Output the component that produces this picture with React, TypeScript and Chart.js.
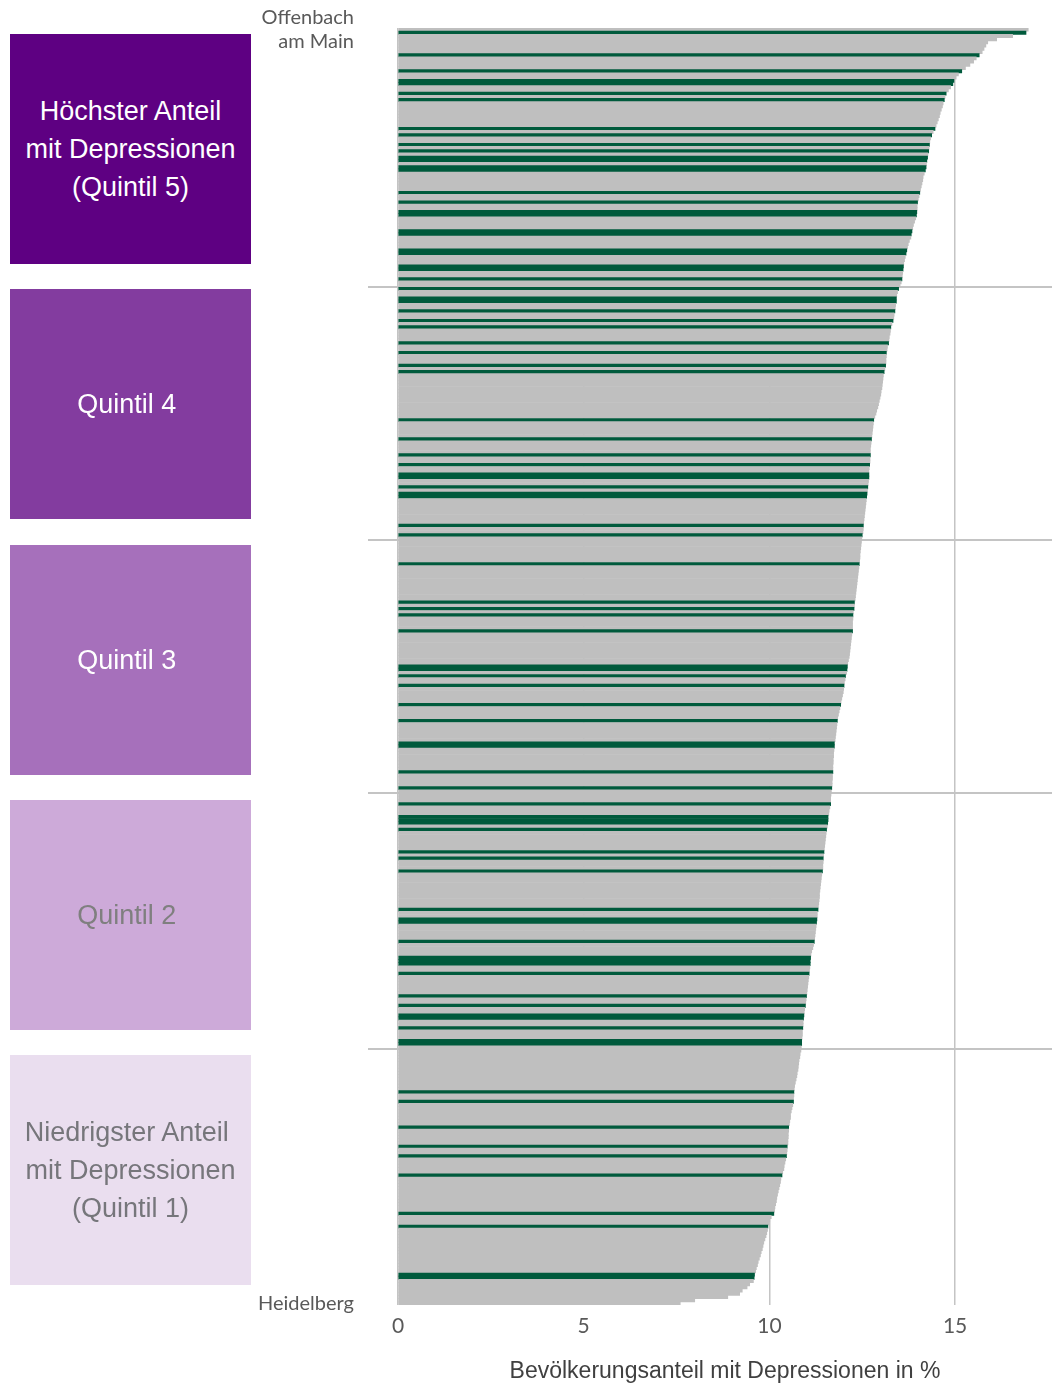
import { useEffect, useRef } from 'react';
import { Chart, registerables } from 'chart.js';

Chart.register(...registerables);

// Share of population with depression (%), districts sorted from highest to lowest
const districtValues: number[] = [
  16.97, 16.91, 16.55, 16.12, 15.88, 15.83, 15.78, 15.73, 15.65, 15.57,
  15.50, 15.40, 15.28, 15.18, 15.09, 15.03, 14.97, 14.94, 14.88, 14.82,
  14.76, 14.73, 14.71, 14.68, 14.66, 14.63, 14.60, 14.58, 14.55, 14.52,
  14.49, 14.46, 14.41, 14.37, 14.34, 14.32, 14.31, 14.30, 14.29, 14.27,
  14.26, 14.24, 14.23, 14.22, 14.20, 14.17, 14.14, 14.13, 14.11, 14.09,
  14.07, 14.05, 14.03, 14.01, 13.99, 13.98, 13.98, 13.97, 13.96, 13.94,
  13.91, 13.88, 13.86, 13.84, 13.82, 13.81, 13.77, 13.74, 13.72, 13.70,
  13.68, 13.66, 13.64, 13.62, 13.61, 13.60, 13.59, 13.58, 13.57, 13.55,
  13.52, 13.48, 13.45, 13.43, 13.42, 13.42, 13.40, 13.39, 13.38, 13.36,
  13.35, 13.33, 13.30, 13.27, 13.26, 13.25, 13.23, 13.22, 13.21, 13.18,
  13.17, 13.15, 13.15, 13.14, 13.14, 13.13, 13.11, 13.09, 13.07, 13.06,
  13.05, 13.04, 13.03, 13.01, 13.00, 12.98, 12.96, 12.94, 12.92, 12.89,
  12.87, 12.84, 12.81, 12.80, 12.79, 12.78, 12.77, 12.76, 12.75, 12.74,
  12.73, 12.72, 12.72, 12.72, 12.71, 12.71, 12.70, 12.69, 12.68, 12.68,
  12.68, 12.67, 12.66, 12.65, 12.64, 12.63, 12.62, 12.61, 12.60, 12.59,
  12.58, 12.57, 12.56, 12.55, 12.54, 12.53, 12.53, 12.52, 12.50, 12.49,
  12.48, 12.47, 12.46, 12.45, 12.44, 12.44, 12.43, 12.42, 12.41, 12.40,
  12.39, 12.38, 12.37, 12.36, 12.35, 12.34, 12.33, 12.32, 12.31, 12.29,
  12.29, 12.28, 12.26, 12.25, 12.25, 12.24, 12.24, 12.24, 12.24, 12.22,
  12.21, 12.20, 12.19, 12.18, 12.17, 12.16, 12.15, 12.13, 12.11, 12.10,
  12.09, 12.08, 12.05, 12.04, 12.02, 12.01, 12.00, 11.99, 11.97, 11.95,
  11.93, 11.92, 11.90, 11.88, 11.86, 11.84, 11.83, 11.82, 11.81, 11.80,
  11.79, 11.78, 11.77, 11.75, 11.75, 11.74, 11.73, 11.73, 11.72, 11.72,
  11.71, 11.71, 11.71, 11.70, 11.70, 11.69, 11.69, 11.68, 11.67, 11.66,
  11.65, 11.65, 11.65, 11.63, 11.61, 11.60, 11.58, 11.58, 11.57, 11.56,
  11.54, 11.53, 11.52, 11.51, 11.50, 11.49, 11.48, 11.47, 11.46, 11.45,
  11.45, 11.44, 11.44, 11.43, 11.41, 11.40, 11.39, 11.38, 11.37, 11.36,
  11.35, 11.35, 11.34, 11.33, 11.32, 11.31, 11.29, 11.29, 11.28, 11.27,
  11.26, 11.25, 11.24, 11.23, 11.22, 11.21, 11.19, 11.17, 11.14, 11.12,
  11.11, 11.10, 11.10, 11.09, 11.08, 11.07, 11.06, 11.05, 11.04, 11.03,
  11.02, 11.01, 11.00, 10.99, 10.98, 10.97, 10.95, 10.94, 10.93, 10.92,
  10.91, 10.91, 10.90, 10.89, 10.89, 10.88, 10.87, 10.87, 10.86, 10.85,
  10.83, 10.82, 10.80, 10.79, 10.78, 10.77, 10.75, 10.74, 10.72, 10.70,
  10.68, 10.67, 10.66, 10.66, 10.65, 10.65, 10.63, 10.61, 10.59, 10.57,
  10.57, 10.55, 10.54, 10.52, 10.52, 10.51, 10.51, 10.50, 10.50, 10.48,
  10.48, 10.47, 10.46, 10.44, 10.42, 10.40, 10.39, 10.36, 10.34, 10.31,
  10.30, 10.28, 10.26, 10.24, 10.22, 10.20, 10.19, 10.17, 10.15, 10.14,
  10.12, 10.05, 10.01, 9.99, 9.96, 9.95, 9.93, 9.91, 9.88, 9.85,
  9.83, 9.81, 9.78, 9.76, 9.73, 9.70, 9.68, 9.65, 9.63, 9.60,
  9.59, 9.57, 9.47, 9.40, 9.27, 9.20, 8.88, 7.99, 7.60,
];

// Positions (in the sorted list) of the highlighted (green) districts
const highlightedIdx: number[] = [
  1, 8, 13, 16, 17, 20, 22, 31, 33, 36, 38, 40, 41, 43, 44, 51, 54, 57, 58, 63, 64,
  69, 70, 74, 75, 78, 81, 84, 85, 88, 91, 93, 98, 101, 105, 107, 122, 128,
  133, 136, 139, 140, 143, 145, 146, 155, 158, 167, 179, 181, 183, 188, 199, 200,
  202, 205, 211, 216, 223, 224, 232, 237, 242, 246, 247, 248, 250, 257, 259, 263,
  275, 278, 279, 285, 290, 291, 292, 295, 302, 305, 308, 309, 312, 316, 317,
  332, 335, 343, 349, 352, 358, 370, 374, 389, 390,
];

const firstDistrictLabel = ['Offenbach', 'am Main'];
const lastDistrictLabel = 'Heidelberg';
const xTickValues = [0, 5, 10, 15];
const quintileBoundaries = [81, 160, 239, 319];
const axisTitle = 'Bevölkerungsanteil mit Depressionen in %';

const quintileLabels: string[][] = [
  ['Höchster Anteil', 'mit Depressionen', '(Quintil 5)'],
  ['Quintil 4 '],
  ['Quintil 3 '],
  ['Quintil 2 '],
  ['Niedrigster Anteil ', 'mit Depressionen', '(Quintil 1)'],
];
const quintileColors = ['#5e0082', '#833c9f', '#a670bb', '#cdaad9', '#eadeef'];
const quintileTextColors = ['#ffffff', '#ffffff', '#ffffff', '#7f7f7f', '#76767b'];

const GREY = '#bfbfbf';
const GREEN = '#005a3c';

const categories = districtValues.map((_, i) =>
  i === 0 ? firstDistrictLabel.join(' ') : i === districtValues.length - 1 ? lastDistrictLabel : `Kreis ${i + 1}`
);

export default function App() {
  const canvasRef = useRef<HTMLCanvasElement>(null);

  useEffect(() => {
    const canvas = canvasRef.current;
    if (!canvas) return;
    const hl = new Set(highlightedIdx);
    const n = districtValues.length;
    const chart = new Chart(canvas, {
      type: 'bar',
      data: {
        labels: categories,
        datasets: [
          {
            data: districtValues,
            backgroundColor: districtValues.map((_, i) => (hl.has(i) ? GREEN : GREY)),
            barPercentage: 1,
            categoryPercentage: 1,
            borderWidth: 0,
          },
        ],
      },
      options: {
        indexAxis: 'y',
        responsive: false,
        maintainAspectRatio: false,
        animation: false,
        layout: { padding: { top: 28, left: 0, right: 0, bottom: 0 } },
        plugins: { legend: { display: false }, tooltip: { enabled: false } },
        scales: {
          x: {
            type: 'linear',
            min: 0,
            max: 17.61,
            afterBuildTicks: (s: any) => {
              s.ticks = xTickValues.map((v) => ({ value: v }));
            },
            afterFit: (s: any) => {
              s.height = 81;
            },
            grid: { color: '#c4c4c4', lineWidth: 1.5, drawTicks: false },
            border: { display: false },
            ticks: {
              padding: 9,
              color: '#595959',
              font: { family: 'Lato', size: 21 },
            },
            title: {
              display: true,
              text: axisTitle,
              color: '#404040',
              font: { family: 'Liberation Sans', size: 23 },
              padding: { top: 0, bottom: 1 },
            },
          },
          y: {
            type: 'category',
            offset: true,
            afterFit: (s: any) => {
              s.width = 398;
            },
            grid: {
              offset: true,
              color: (ctx: any) => (quintileBoundaries.includes(ctx.index) ? '#c4c4c4' : 'rgba(0,0,0,0)'),
              lineWidth: 2,
              tickLength: 30,
              drawTicks: true,
            },
            border: { display: false },
            ticks: {
              autoSkip: false,
              padding: 14,
              color: '#595959',
              font: { family: 'Lato', size: 20 },
              callback: (_v: any, i: number) =>
                i === 0 ? firstDistrictLabel : i === n - 1 ? lastDistrictLabel : '',
            },
          },
        },
      },
    } as any);
    return () => chart.destroy();
  }, []);

  return (
    <div
      style={{
        position: 'absolute',
        left: 0,
        top: 0,
        width: 1052,
        height: 1386,
        background: '#ffffff',
        overflow: 'hidden',
      }}
    >
      <canvas ref={canvasRef} width={1052} height={1386} style={{ position: 'absolute', left: 0, top: 0 }} />
      {quintileLabels.map((lines, i) => (
        <div
          key={i}
          style={{
            position: 'absolute',
            left: 10,
            top: 34 + Math.round(i * 255.3),
            width: 241,
            height: 230,
            background: quintileColors[i],
            color: quintileTextColors[i],
            display: 'flex',
            flexDirection: 'column',
            alignItems: 'center',
            justifyContent: 'center',
            fontFamily: '"Liberation Sans", Arial, sans-serif',
            fontSize: 27,
            lineHeight: '38px',
            textAlign: 'center',
            whiteSpace: 'pre',
          }}
        >
          {lines.map((l, j) => (
            <div key={j}>{l}</div>
          ))}
        </div>
      ))}
    </div>
  );
}
